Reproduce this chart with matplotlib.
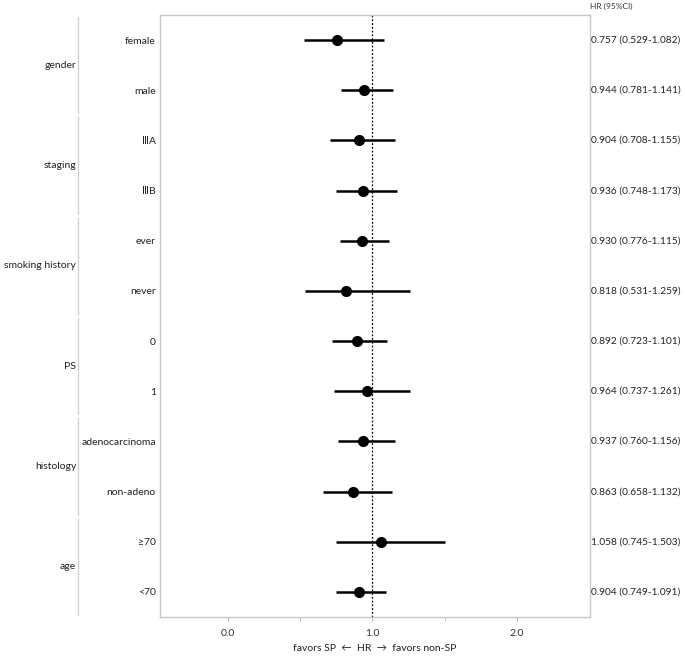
import matplotlib.pyplot as plt
import matplotlib.transforms as mtransforms

# --------------------------
# data
# --------------------------
groups = ["gender", "staging", "smoking history", "PS", "histology", "age"]
subgroups = ["female", "male", "ⅢA", "ⅢB", "ever", "never", "0", "1",
             "adenocarcinoma", "non-adeno", "≥70", "<70"]
group_of = [0, 0, 1, 1, 2, 2, 3, 3, 4, 4, 5, 5]
hr = [0.757, 0.944, 0.904, 0.936, 0.930, 0.818, 0.892, 0.964, 0.937, 0.863, 1.058, 0.904]
lo = [0.529, 0.781, 0.708, 0.748, 0.776, 0.531, 0.723, 0.737, 0.760, 0.658, 0.745, 0.749]
hi = [1.082, 1.141, 1.155, 1.173, 1.115, 1.259, 1.101, 1.261, 1.156, 1.132, 1.503, 1.091]
xticks = [0.0, 1.0, 2.0]

plt.rcParams['font.family'] = ['Lato', 'DejaVu Sans']

fig = plt.figure(figsize=(6.85, 6.57), dpi=100)
ax = fig.add_axes([160/685, 1 - 617/657, 430/685, 602/657])

n = len(subgroups)
ys = list(range(n - 1, -1, -1))

for y, h, l, u in zip(ys, hr, lo, hi):
    ax.plot([l, u], [y, y], color="black", lw=1.8, solid_capstyle="butt")
    ax.plot(h, y, "o", color="black", ms=7)

ax.axvline(1.0, color="black", lw=0.9, ls=(0, (1.5, 1.5)))

ax.set_xlim(-0.47, 2.505)
ax.set_ylim(-0.5, n - 0.5)
ax.set_xticks(xticks)
ax.set_xticklabels([f"{t:.1f}" for t in xticks], fontsize=7.5, color="#333333")
ax.set_xticks([0.5, 1.5], minor=True)
ax.set_yticks(ys)
ax.set_yticklabels(subgroups, fontsize=7.5, color="#222222")
ax.tick_params(axis="y", length=0, pad=3)
ax.tick_params(axis="x", which="both", length=3, color="#bbbbbb", pad=6)

for s in ["top", "right", "bottom", "left"]:
    ax.spines[s].set_color("#c8c8c8")
    ax.spines[s].set_linewidth(1.0)

# right side HR text
for y, h, l, u in zip(ys, hr, lo, hi):
    ax.text(1.002, y, f"{h:.3f} ({l:.3f}-{u:.3f})", transform=ax.get_yaxis_transform(),
            fontsize=7.3, va="center", ha="left", color="#222222")
ax.text(1.0, 1.008, "HR (95%CI)", transform=ax.transAxes, fontsize=6,
        ha="left", va="bottom", color="#333333")

# group labels with brackets
trans = mtransforms.blended_transform_factory(ax.transAxes, ax.transData)
for g, name in enumerate(groups):
    rows = [ys[i] for i in range(n) if group_of[i] == g]
    top, bot = max(rows) + 0.46, min(rows) - 0.46
    ax.plot([-0.19, -0.19], [bot, top], color="#cfcfcf", lw=0.9,
            transform=trans, clip_on=False)
    ax.text(-0.195, (top + bot) / 2, name, transform=trans, fontsize=7.5,
            ha="right", va="center", color="#222222")

ax.set_xlabel("favors SP  ←  HR  →  favors non-SP", fontsize=7.5, color="#222222", labelpad=4)

plt.savefig("out.png", dpi=100)
plt.close()
